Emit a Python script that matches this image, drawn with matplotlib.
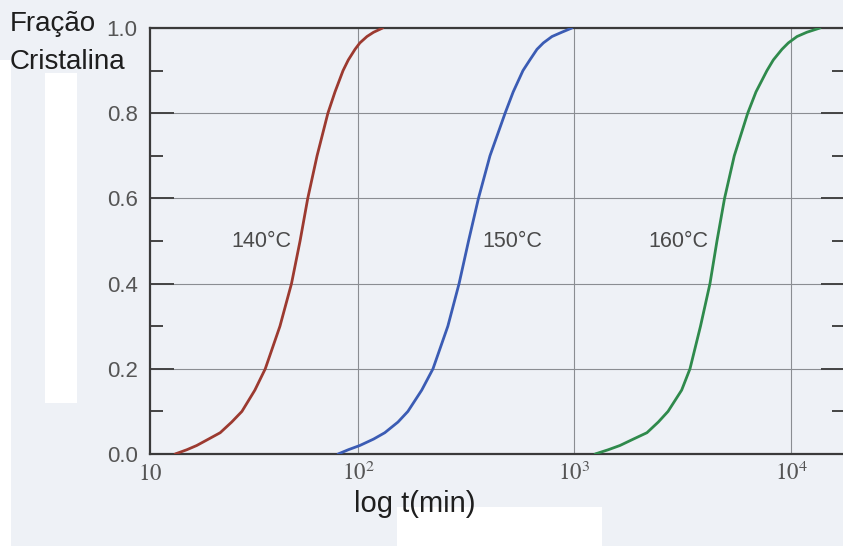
import matplotlib.pyplot as plt
from matplotlib.patches import Rectangle
from matplotlib.ticker import MultipleLocator, FixedLocator, FixedFormatter
from matplotlib.transforms import offset_copy

# dados
frac = [0.0, 0.01, 0.02, 0.035, 0.05, 0.075, 0.1, 0.15, 0.2, 0.3, 0.4, 0.5,
        0.6, 0.7, 0.8, 0.85, 0.9, 0.925, 0.95, 0.965, 0.98, 0.99, 1.0]
t_140 = [14.3, 16.2, 18.0, 20.4, 23.1, 26.1, 29.1, 33.4, 37.3, 43.6, 49.3, 54.0,
         58.6, 64.7, 72.6, 78.3, 85.3, 90.2, 96.9, 102, 110, 118, 130]
t_150 = [80.9, 90.2, 102, 118, 133, 153, 170, 197, 222, 260, 293, 324,
         360, 407, 478, 521, 578, 622, 671, 718, 787, 873, 973]
t_160 = [1245, 1432, 1622, 1870, 2161, 2438, 2704, 3126, 3415, 3819, 4224, 4550,
         4932, 5470, 6310, 6890, 7742, 8285, 9082, 9720, 10660, 11830, 13610]
temps = ['140°C', '150°C', '160°C']
label_t = [35.6, 514, 3006]
cores = ['#9c3a30', '#3b5cb4', '#2f8a4c']
xticks = [100, 1000, 10000]
xticklabels = [r'$10^2$', r'$10^3$', r'$10^4$']

plt.rcParams['font.family'] = ['Liberation Sans', 'DejaVu Sans']
plt.rcParams['mathtext.fontset'] = 'stix'

bg = '#eef1f6'
fig = plt.figure(figsize=(8.43, 5.46), dpi=100, facecolor=bg)

# remendos brancos do scan
W, H = 843, 546
for (x0, y0, w, h) in [(0, 60, 11, 486), (45, 73, 32, 330), (397, 507, 205, 39)]:
    fig.patches.append(Rectangle((x0 / W, 1 - (y0 + h) / H), w / W, h / H,
                                 transform=fig.transFigure, facecolor='white',
                                 edgecolor='none', zorder=0))

ax = fig.add_axes([150 / W, (H - 454) / H, 695 / W, 426 / H])
ax.patch.set_alpha(0.0)

for t, c in zip([t_140, t_150, t_160], cores):
    ax.plot(t, frac, color=c, lw=2.0, solid_capstyle='round', solid_joinstyle='round',
            zorder=3)

ax.set_xscale('log')
ax.set_xlim(10 ** 1.0393, 10 ** 4.2494)
ax.set_ylim(0, 1.0)

ax.xaxis.set_major_locator(FixedLocator(xticks))
ax.xaxis.set_major_formatter(FixedFormatter(xticklabels))
ax.xaxis.set_minor_locator(FixedLocator([]))
ax.yaxis.set_major_locator(MultipleLocator(0.2))
ax.yaxis.set_minor_locator(MultipleLocator(0.1))
ax.yaxis.set_major_formatter(plt.FuncFormatter(lambda v, p: f'{v:.1f}'))

ax.grid(True, which='major', color='#8a8d92', lw=0.8, zorder=1)
ax.tick_params(axis='x', which='both', length=0, pad=19, labelsize=16.5, labelcolor='#555555')
ax.tick_params(axis='y', which='major', direction='in', length=17, width=1.4,
               color='#444444', left=True, right=True, pad=9, labelsize=16,
               labelcolor='#555555')
ax.tick_params(axis='y', which='minor', direction='in', length=9.5, width=1.4,
               color='#444444', left=True, right=True)
for lbl in ax.get_xticklabels():
    lbl.set_va('baseline')

# rótulo "10" na borda esquerda
ax.text(0.0, 0.0, r'$10$', transform=offset_copy(ax.transAxes, fig=fig, y=-19, units='points'),
        ha='center', va='baseline', fontsize=16.5, color='#555555')

for s in ax.spines.values():
    s.set_color('#3a3a3a')
    s.set_linewidth(1.6)

for txt, tx in zip(temps, label_t):
    ax.text(tx, 0.498, txt, ha='center', va='center', fontsize=15.5, color='#4a4a4a',
            zorder=4)

fig.text(10 / W, 1 - 31 / H, 'Fração', ha='left', va='baseline', fontsize=20,
         color='#1e1e1e')
fig.text(10 / W, 1 - 69 / H, 'Cristalina', ha='left', va='baseline', fontsize=20,
         color='#1e1e1e')
fig.text(415 / W, 1 - 512 / H, 'log t(min)', ha='center', va='baseline', fontsize=21,
         color='#1e1e1e')

fig.savefig('out.png', dpi=100, facecolor=bg)
